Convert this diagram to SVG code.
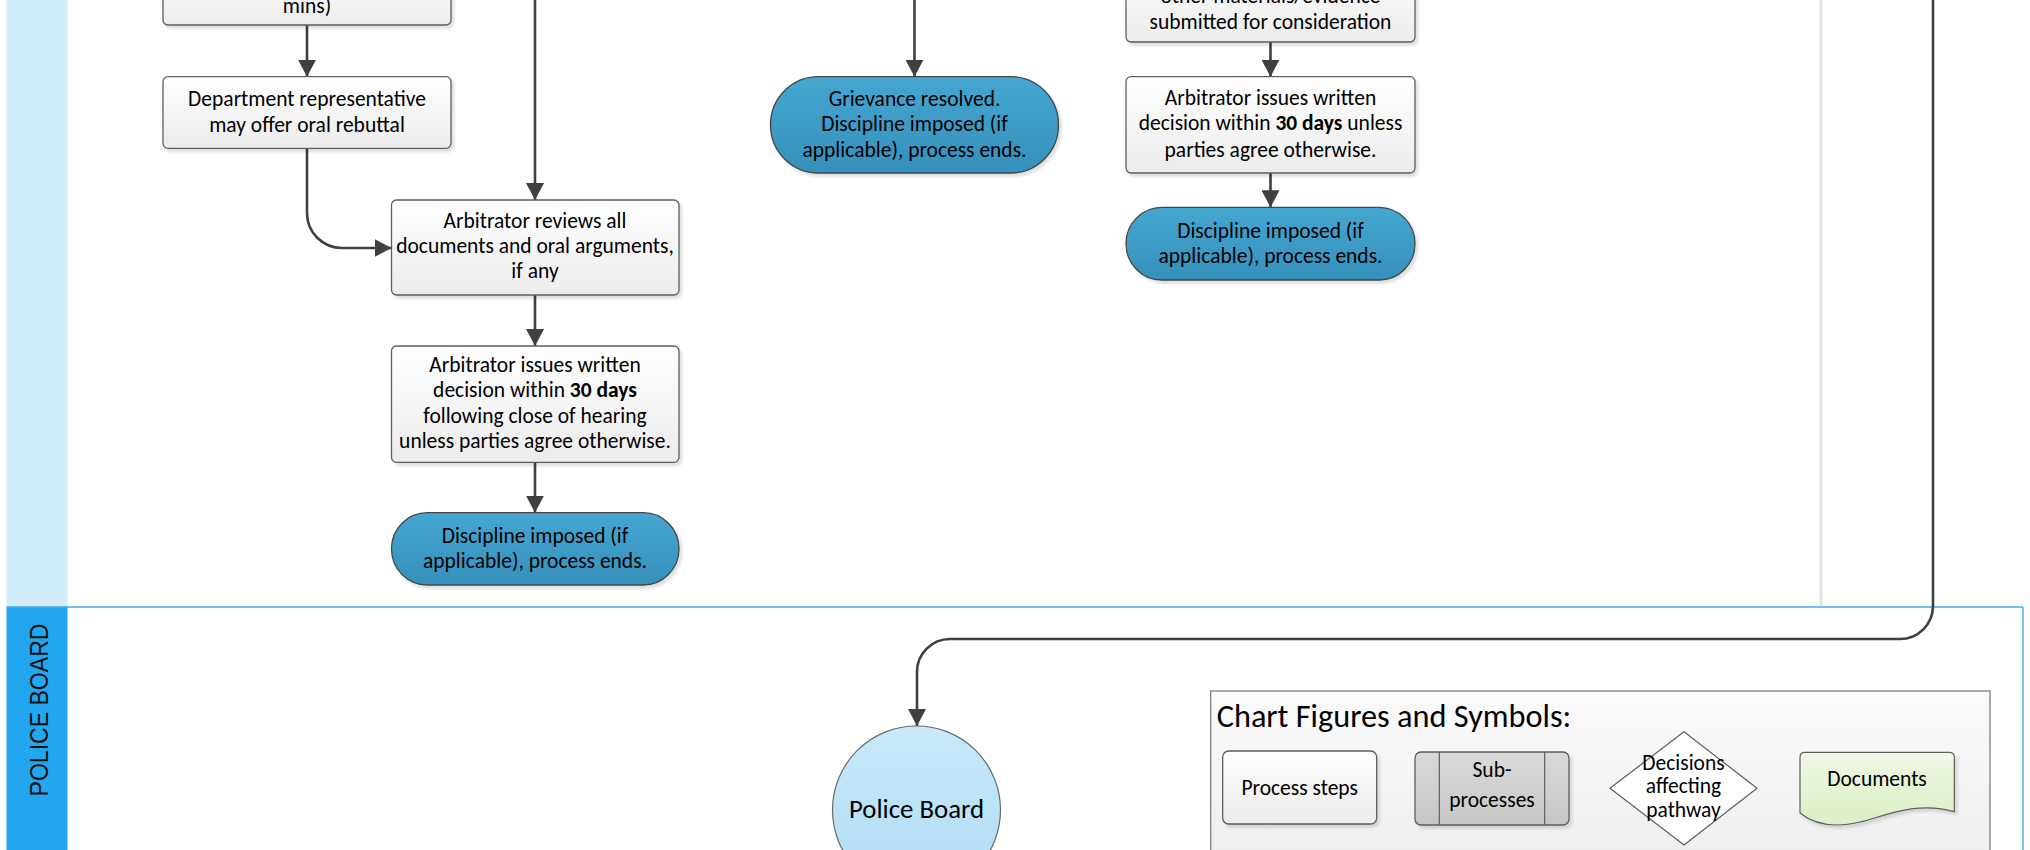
<svg xmlns="http://www.w3.org/2000/svg" width="2030" height="850" viewBox="0 0 2030 850">
<defs>
<linearGradient id="gBox" x1="0" y1="0" x2="0" y2="1"><stop offset="0" stop-color="#FFFFFF"/><stop offset="1" stop-color="#ECECEC"/></linearGradient>
<linearGradient id="gTerm" x1="0" y1="0" x2="0" y2="1"><stop offset="0" stop-color="#45A7D1"/><stop offset="1" stop-color="#3590BC"/></linearGradient>
<linearGradient id="gCircle" x1="0" y1="0" x2="0" y2="1"><stop offset="0" stop-color="#C8E9F9"/><stop offset="1" stop-color="#AEDCF4"/></linearGradient>
<linearGradient id="gLegend" x1="0" y1="0" x2="0" y2="1"><stop offset="0" stop-color="#FBFBFB"/><stop offset="1" stop-color="#EEEEEE"/></linearGradient>
<linearGradient id="gSub" x1="0" y1="0" x2="0" y2="1"><stop offset="0" stop-color="#DADADA"/><stop offset="1" stop-color="#C6C6C6"/></linearGradient>
<linearGradient id="gDoc" x1="0" y1="0" x2="0" y2="1"><stop offset="0" stop-color="#F0F8E6"/><stop offset="1" stop-color="#DBEEC4"/></linearGradient>
<filter id="sh" x="-10%" y="-10%" width="125%" height="135%"><feDropShadow dx="2.5" dy="3" stdDeviation="1.5" flood-color="#000" flood-opacity="0.13"/></filter>
<marker id="arr" viewBox="0 0 18 18" markerWidth="18" markerHeight="18" refX="17" refY="9" orient="auto" markerUnits="userSpaceOnUse"><path d="M0,0 L17,9 L0,18 Z" fill="#404040"/></marker>
</defs>
<style>
.t{font-family:Carlito,Lato,"Liberation Sans",sans-serif;font-size:21.5px;fill:#000;text-anchor:middle}
.box{fill:url(#gBox);stroke:#5E5E5E;stroke-width:1.3;filter:url(#sh)}
.term{fill:url(#gTerm);stroke:#454545;stroke-width:1.3;filter:url(#sh)}
.con{fill:none;stroke:#404040;stroke-width:2.6;marker-end:url(#arr)}
.b{font-weight:bold}
</style>
<rect width="2030" height="850" fill="#FFFFFF"/>
<g id="lanes">
<rect x="6.5" y="0" width="61" height="607" fill="#D3EEFB"/>
<rect x="6.5" y="607" width="61" height="243" fill="#22A6EF"/>
<line x1="6.5" y1="607" x2="2023" y2="607" stroke="#3FA8E6" stroke-width="1.6"/>
<line x1="2023" y1="607" x2="2023" y2="850" stroke="#5AB3E8" stroke-width="1.6"/>
<line x1="1821" y1="0" x2="1821" y2="606" stroke="#DDE3E8" stroke-width="3"/>
<text transform="translate(48,710) rotate(-90)" style="font-family:'Liberation Sans',sans-serif;font-size:25px;fill:#111;text-anchor:middle" textLength="173" lengthAdjust="spacingAndGlyphs">POLICE BOARD</text>
</g>
<g id="connectors">
<path class="con" d="M307,25 L307,76.7"/>
<path class="con" d="M307,148.3 L307,213 A35,35 0 0 0 342,248 L391.5,248"/>
<path class="con" d="M535,0 L535,200"/>
<path class="con" d="M535,295 L535,346"/>
<path class="con" d="M535,462.3 L535,512.7"/>
<path class="con" d="M914.5,0 L914.5,76.7"/>
<path class="con" d="M1270.5,42 L1270.5,76.7"/>
<path class="con" d="M1270.5,173 L1270.5,207.3"/>
<path class="con" d="M1933,0 L1933,606 A33,33 0 0 1 1900,639 L950,639 A33,33 0 0 0 917,672 L917,726"/>
</g>
<g id="nodeA">
<rect class="box" x="163" y="-30" width="288" height="55" rx="5"/>
<text class="t" x="307" y="13">mins)</text>
</g>
<g id="nodeB">
<rect class="box" x="163" y="76.7" width="288" height="71.6" rx="5"/>
<text class="t" x="307" y="106">Department representative</text>
<text class="t" x="307" y="131.7">may offer oral rebuttal</text>
</g>
<g id="nodeC">
<rect class="box" x="391.5" y="200" width="287.5" height="95" rx="5"/>
<text class="t" x="535" y="227.7">Arbitrator reviews all</text>
<text class="t" x="535" y="253.3">documents and oral arguments,</text>
<text class="t" x="535" y="278">if any</text>
</g>
<g id="nodeD">
<rect class="box" x="391.5" y="346" width="287.5" height="116.3" rx="5"/>
<text class="t" x="535" y="371.7">Arbitrator issues written</text>
<text class="t" x="535" y="397.3">decision within <tspan class="b">30 days</tspan></text>
<text class="t" x="535" y="422.7">following close of hearing</text>
<text class="t" x="535" y="448.3">unless parties agree otherwise.</text>
</g>
<g id="nodeE">
<rect class="term" x="391.5" y="512.7" width="287.5" height="72.3" rx="36"/>
<text class="t" x="535" y="542.7">Discipline imposed (if</text>
<text class="t" x="535" y="567.7">applicable), process ends.</text>
</g>
<g id="nodeF">
<rect class="term" x="770.5" y="76.7" width="288" height="96.3" rx="48"/>
<text class="t" x="914.5" y="106">Grievance resolved.</text>
<text class="t" x="914.5" y="131.3">Discipline imposed (if</text>
<text class="t" x="914.5" y="156.7">applicable), process ends.</text>
</g>
<g id="nodeG">
<rect class="box" x="1126" y="-40" width="289" height="82" rx="5"/>
<text class="t" x="1270.5" y="3">other materials/evidence</text>
<text class="t" x="1270.5" y="28.5">submitted for consideration</text>
</g>
<g id="nodeH">
<rect class="box" x="1126" y="76.7" width="289" height="96.3" rx="5"/>
<text class="t" x="1270.5" y="105">Arbitrator issues written</text>
<text class="t" x="1270.5" y="130.3">decision within <tspan class="b">30 days</tspan> unless</text>
<text class="t" x="1270.5" y="156.7">parties agree otherwise.</text>
</g>
<g id="nodeI">
<rect class="term" x="1126" y="207.3" width="289" height="72.7" rx="36"/>
<text class="t" x="1270.5" y="237.5">Discipline imposed (if</text>
<text class="t" x="1270.5" y="263">applicable), process ends.</text>
</g>
<g id="policeBoard">
<circle cx="916.5" cy="810" r="84" fill="url(#gCircle)" stroke="#6A6A6A" stroke-width="1.2"/>
<text class="t" x="916.5" y="818.3" style="font-size:26.8px">Police Board</text>
</g>
<g id="legend">
<rect x="1210.7" y="691" width="779.3" height="175" fill="url(#gLegend)" stroke="#7F7F7F" stroke-width="1.3"/>
<text class="t" x="1216.7" y="726.7" style="font-size:32.3px;text-anchor:start">Chart Figures and Symbols:</text>
<g id="legendProcess">
<rect class="box" x="1222.7" y="751" width="154" height="73" rx="6"/>
<text class="t" x="1299.7" y="795">Process steps</text>
</g>
<g id="legendSub">
<rect x="1415" y="752" width="154" height="73" rx="6" fill="url(#gSub)" stroke="#5E5E5E" stroke-width="1.3" filter="url(#sh)"/>
<line x1="1439.3" y1="752" x2="1439.3" y2="825" stroke="#5E5E5E" stroke-width="1.2"/>
<line x1="1544.7" y1="752" x2="1544.7" y2="825" stroke="#5E5E5E" stroke-width="1.2"/>
<text class="t" x="1492" y="777">Sub-</text>
<text class="t" x="1492" y="806.7">processes</text>
</g>
<g id="legendDecision">
<path d="M1610,788.3 L1684,731.7 L1757,788.3 L1684,845 Z" fill="#FFFFFF" stroke="#5E5E5E" stroke-width="1.2" stroke-linejoin="round"/>
<text class="t" x="1683.5" y="770">Decisions</text>
<text class="t" x="1683.5" y="793.3">affecting</text>
<text class="t" x="1683.5" y="816.7">pathway</text>
</g>
<g id="legendDocument">
<path d="M1805,752.3 H1949.3 Q1954.3,752.3 1954.3,757.3 V811.7 C1915,800 1880,818 1860,822 C1835,828 1815,825 1800,813 V757.3 Q1800,752.3 1805,752.3 Z" fill="url(#gDoc)" stroke="#5E5E5E" stroke-width="1.2" filter="url(#sh)"/>
<text class="t" x="1877" y="786">Documents</text>
</g>
</g>
</svg>
